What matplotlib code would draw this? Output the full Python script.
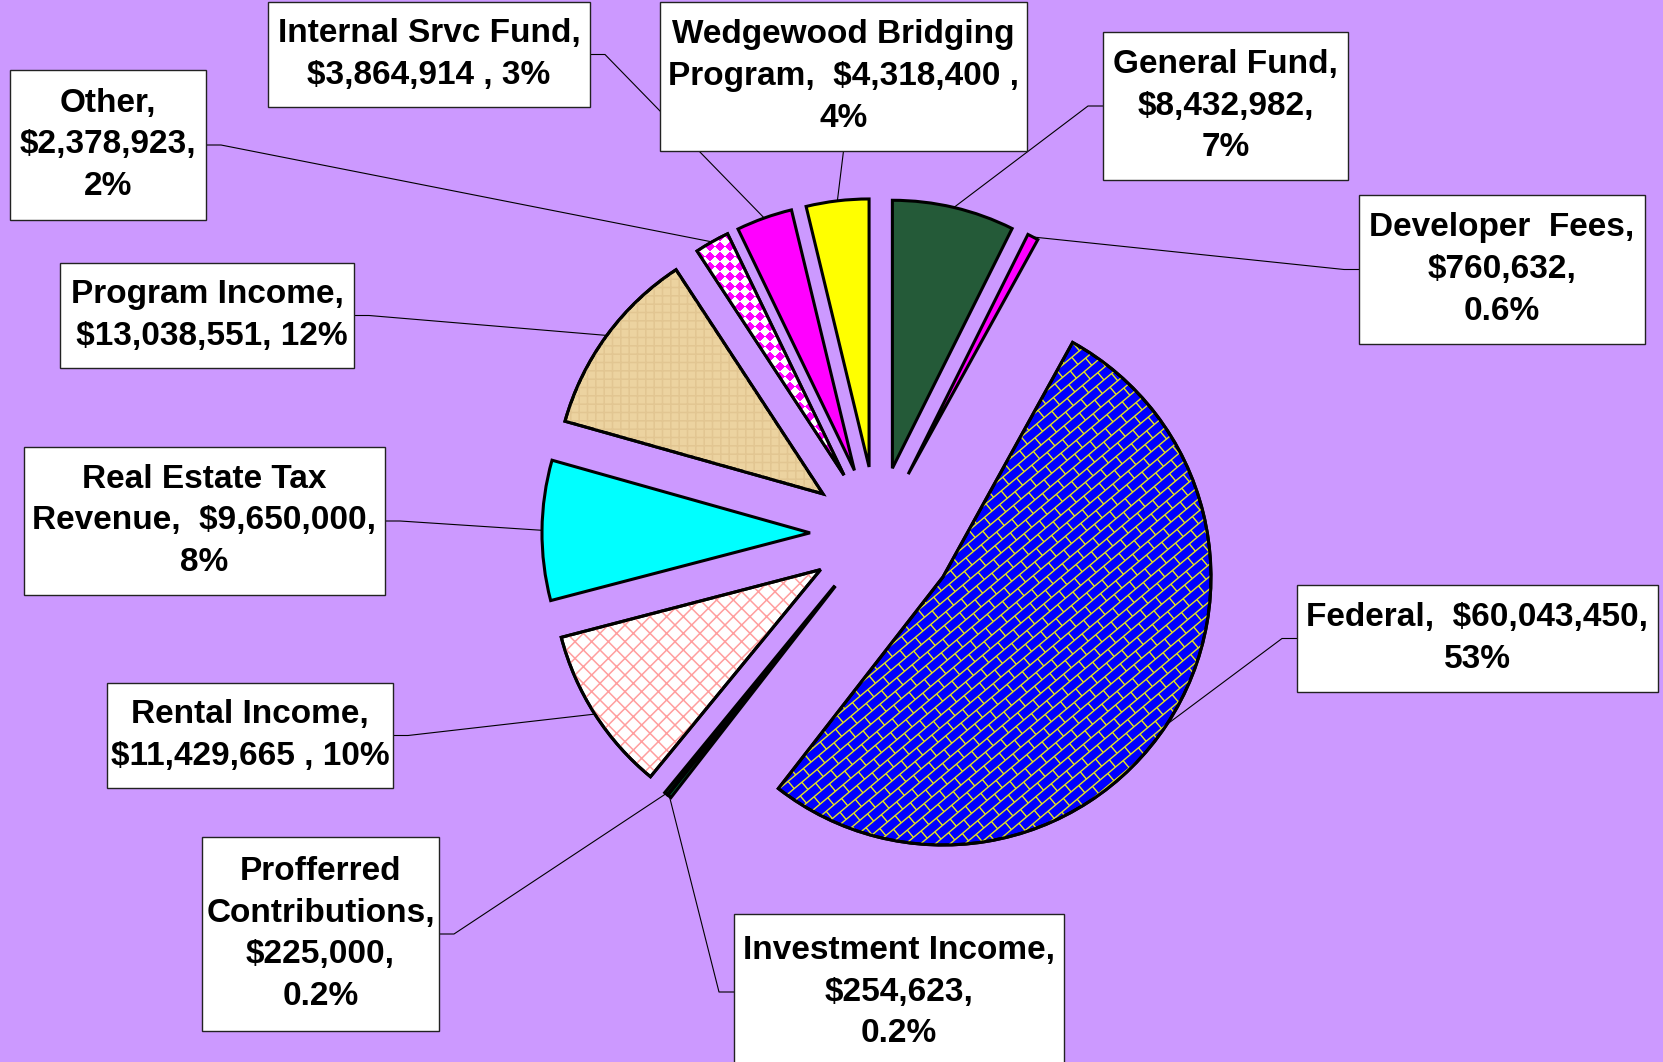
import numpy as np
import matplotlib.pyplot as plt
from matplotlib.patches import Rectangle, PathPatch
from matplotlib.collections import LineCollection
from matplotlib.colors import ListedColormap

W, H = 1663, 1062

# slices, clockwise from 12 o'clock
categories = ["General Fund", "Developer Fees", "Federal", "Investment Income",
              "Profferred Contributions", "Rental Income", "Real Estate Tax Revenue",
              "Program Income", "Other", "Internal Srvc Fund",
              "Wedgewood Bridging Program"]
amounts = [8432982, 760632, 60043450, 254623, 225000, 11429665, 9650000,
           13038551, 2378923, 3864914, 4318400]
label_texts = [
    "General Fund,\n$8,432,982,\n7%",
    "Developer  Fees,\n$760,632,\n0.6%",
    "Federal,  $60,043,450,\n53%",
    "Investment Income,\n$254,623,\n0.2%",
    "Profferred\nContributions,\n$225,000,\n0.2%",
    "Rental Income,\n$11,429,665 , 10%",
    "Real Estate Tax\nRevenue,  $9,650,000,\n8%",
    "Program Income,\n $13,038,551, 12%",
    "Other,\n$2,378,923,\n2%",
    "Internal Srvc Fund,\n$3,864,914 , 3%",
    "Wedgewood Bridging\nProgram,  $4,318,400 ,\n4%",
]
colors = ["#245A38", "#FF00FF", "#0000FF", "#008040", "#006633", "#FFFFFF",
          "#00FFFF", "#ECD3A0", "#FFFFFF", "#FF00FF", "#FFFF00"]

# label boxes in pixel coords (left, top, right, bottom) and leader side
boxes = [(1103, 32, 1348, 180), (1359, 195, 1645, 344), (1297, 585, 1658, 692),
         (734, 914, 1064, 1070), (202, 837, 439, 1031), (107, 683, 393, 788),
         (24, 447, 385, 595), (60, 263, 354, 368), (10, 70, 206, 220),
         (268, 2, 590, 107), (660, 2, 1027, 151)]
sides = ["left", "left", "left", "left", "right", "right", "right", "right",
         "right", "right", "bottom"]

R = 268
CX, CY = 877, H - 533.5
explode = [67, 67, 79, 67, 67, 67, 67, 67, 67, 67, 67]

plt.rcParams['hatch.linewidth'] = 1.1
fig = plt.figure(figsize=(W / 100, H / 100), dpi=100)
fig.patch.set_facecolor("#CC99FF")
ax = fig.add_axes([0, 0, 1, 1])

wedges, _ = ax.pie(amounts, explode=explode, colors=colors, startangle=90,
                   counterclock=False, center=(CX, CY), radius=R,
                   wedgeprops=dict(edgecolor="black", linewidth=2.2))


def outline(w):
    ax.add_patch(PathPatch(w.get_path(), transform=w.get_transform(),
                           facecolor="none", edgecolor="black", lw=2.2, zorder=2))


# Federal: yellow brick pattern
fed = wedges[2]
a = np.deg2rad(40)
t = np.array([np.cos(a), np.sin(a)])
n = np.array([-np.sin(a), np.cos(a)])
c0 = np.array(fed.center)
s, brick = 9.5, 20.0
segs = []
for k in range(-32, 33):
    base = c0 + k * s * n
    segs.append([base - 300 * t, base + 300 * t])
    off = (k % 2) * brick / 2
    for j in range(-16, 17):
        p = base + (j * brick + off) * t
        segs.append([p, p + s * n])
lc = LineCollection(segs, colors="#E6E61E", linewidths=1.0, zorder=1.5)
lc.set_clip_path(fed)
ax.add_collection(lc)
outline(fed)

# Rental: pink crosshatch
ren = wedges[5]
ax.add_patch(PathPatch(ren.get_path(), transform=ren.get_transform(),
                       facecolor="none", edgecolor="#FF9E9E", lw=0,
                       hatch="xx", zorder=1.5))
outline(ren)

# Program income: faint parchment grain
prg = wedges[7]
ax.add_patch(PathPatch(prg.get_path(), transform=prg.get_transform(),
                       facecolor="none", edgecolor="#E2C692", lw=0,
                       hatch="++", zorder=1.5))
outline(prg)

# Other: magenta/white diamond checker
oth = wedges[8]
yy, xx = np.mgrid[0:H, 0:W]
cell = 10
checker = ((np.floor((xx + yy) / cell) + np.floor((xx - yy) / cell)) % 2)
im = ax.imshow(checker, extent=(0, W, 0, H), origin="lower",
               cmap=ListedColormap(["white", "#FF00FF"]),
               interpolation="nearest", zorder=1.5)
im.set_clip_path(oth)
outline(oth)

# labels and leader lines
for w, txt, box, side in zip(wedges, label_texts, boxes, sides):
    x0, y0, x1, y1 = box
    top, bot = H - y0, H - y1
    tm = np.deg2rad((w.theta1 + w.theta2) / 2)
    ex = w.center[0] + w.r * np.cos(tm)
    ey = w.center[1] + w.r * np.sin(tm)
    ym = (top + bot) / 2
    if side == "left":
        xs, ys = [x0, x0 - 15, ex], [ym, ym, ey]
    elif side == "right":
        xs, ys = [x1, x1 + 15, ex], [ym, ym, ey]
    else:
        xm = (x0 + x1) / 2
        xs, ys = [xm, ex], [bot, ey]
    ax.plot(xs, ys, color="black", lw=0.8, zorder=0.5)
    ax.add_patch(Rectangle((x0, bot), x1 - x0, top - bot, facecolor="white",
                           edgecolor="#222222", lw=1.0, zorder=3))
    ax.text((x0 + x1) / 2, (top + bot) / 2, txt, ha="center", va="center",
            fontsize=24, fontweight="bold", family="Liberation Sans",
            linespacing=1.45, zorder=4)

ax.set_xlim(0, W)
ax.set_ylim(0, H)
ax.set_aspect("equal")
ax.set_axis_off()

fig.savefig("out.png", dpi=100, facecolor=fig.get_facecolor())
